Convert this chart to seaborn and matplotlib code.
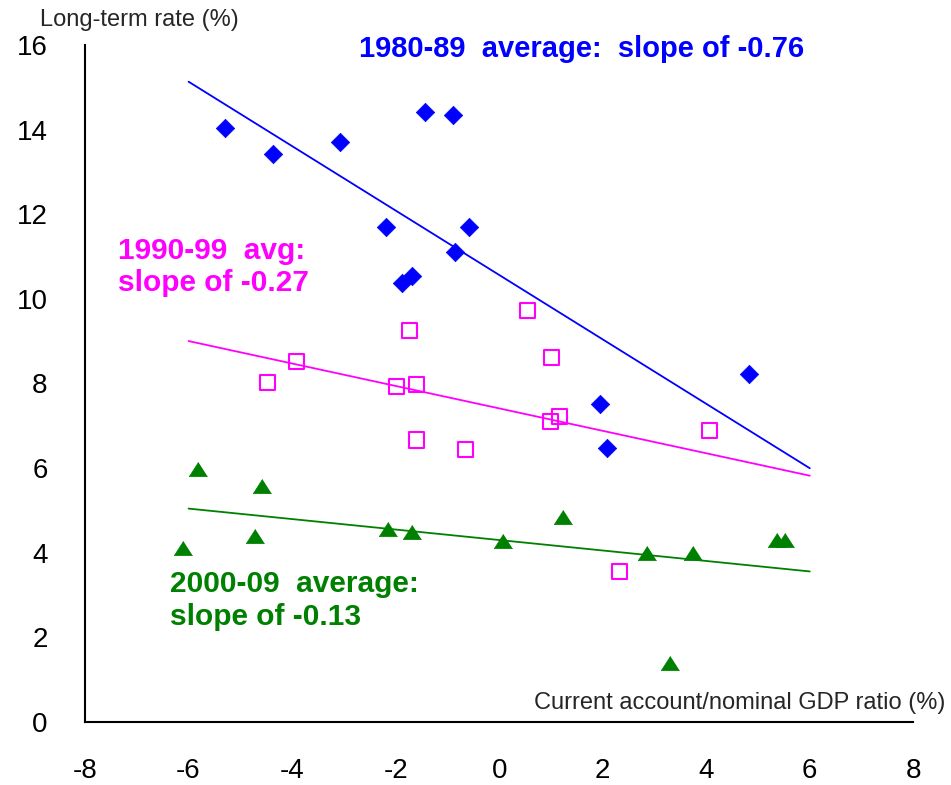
import numpy as np
import matplotlib
matplotlib.use("Agg")
import matplotlib.pyplot as plt
import seaborn as sns

# ------------------------------------------------------------------ #
# Current account / nominal GDP (%) vs long-term rate (%)
ca_80s   = [-5.30, -4.36, -3.07, -2.19, -1.87, -1.69, -1.43, -0.90, -0.85, -0.58, 1.95, 2.09, 4.83]
rate_80s = [14.03, 13.42, 13.70, 11.69, 10.38, 10.54, 14.41, 14.35, 11.10, 11.69, 7.50, 6.46, 8.21]

ca_90s   = [-4.47, -3.92, -1.98, -1.59, -1.74, -1.59, -0.65, 0.55, 1.01, 1.00, 1.16, 4.07, 2.33]
rate_90s = [8.01, 8.51, 7.92, 7.98, 9.24, 6.66, 6.44, 9.73, 8.61, 7.09, 7.21, 6.88, 3.56]

ca_00s   = [-6.10, -5.82, -4.72, -4.58, -2.14, -1.69, 0.08, 1.24, 2.85, 3.74, 5.36, 5.52, 3.29]
rate_00s = [4.11, 5.97, 4.40, 5.58, 4.56, 4.49, 4.28, 4.83, 4.00, 4.00, 4.30, 4.30, 1.39]

FIT_X   = np.array([-6.0, 6.0])     # range of the fitted lines
X_TICKS = np.arange(-8, 9, 2)
Y_TICKS = np.arange(0, 17, 2)
# ------------------------------------------------------------------ #

BLUE, MAGENTA, GREEN = "#0000FF", "#FF00FF", "#008000"

sns.set_style("white")
plt.rcParams["font.family"] = ["Liberation Sans", "DejaVu Sans"]
plt.rcParams["axes.unicode_minus"] = False

fig = plt.figure(figsize=(9.51, 7.85), dpi=100)
ax = fig.add_axes([0.0894, 0.0806, 0.8710, 0.8622])

tri = [(0, 0.78), (-1, -0.78), (1, -0.78)]

sns.scatterplot(x=ca_80s, y=rate_80s, marker="D", s=88, color=BLUE,
                edgecolor=BLUE, linewidth=0.5, ax=ax, zorder=3)
sns.scatterplot(x=ca_90s, y=rate_90s, marker="s", s=118, facecolor="none",
                edgecolor=MAGENTA, linewidth=1.5, ax=ax, zorder=3)
sns.scatterplot(x=ca_00s, y=rate_00s, marker=tri, s=175, color=GREEN,
                edgecolor=GREEN, linewidth=0.5, ax=ax, zorder=3)

# OLS fitted lines over -6..6
for xs, ys, c in [(ca_80s, rate_80s, BLUE), (ca_90s, rate_90s, MAGENTA),
                  (ca_00s, rate_00s, GREEN)]:
    slope, icpt = np.polyfit(xs, ys, 1)
    sns.lineplot(x=FIT_X, y=icpt + slope * FIT_X, color=c, linewidth=1.3,
                 ax=ax, zorder=2)

ax.set_xlim(-8, 8)
ax.set_ylim(0, 16)
ax.set_xticks(X_TICKS)
ax.set_yticks(Y_TICKS)
ax.tick_params(direction="in", length=7, width=1.5, labelsize=20,
               colors="black")
ax.tick_params(axis="y", pad=27)
ax.tick_params(axis="x", pad=26)
sns.despine(ax=ax)
for sp in ["left", "bottom"]:
    ax.spines[sp].set_linewidth(1.5)
    ax.spines[sp].set_color("black")

# Annotations
ax.text(-2.71, 15.72, "1980-89  average:  slope of -0.76", color=BLUE,
        fontsize=21, fontweight="bold", va="baseline")
ax.text(-7.36, 10.18, "1990-99  avg:\nslope of -0.27", color=MAGENTA,
        fontsize=21.5, fontweight="bold", va="baseline", linespacing=1.2)
ax.text(-6.36, 2.29, "2000-09  average:\nslope of -0.13", color=GREEN,
        fontsize=21.5, fontweight="bold", va="baseline", linespacing=1.2)

fig.text(0.042, 0.967, "Long-term rate (%)", fontsize=17, va="baseline")
fig.text(0.994, 0.097, "Current account/nominal GDP ratio (%)", fontsize=17,
         ha="right", va="baseline")

fig.savefig("out.png", dpi=100)
